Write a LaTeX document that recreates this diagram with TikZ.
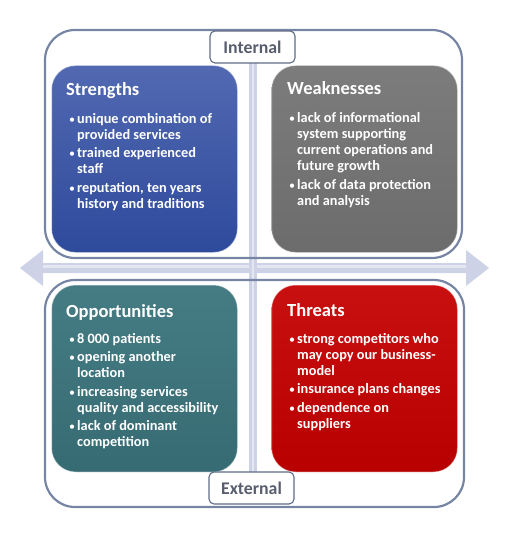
\documentclass[tikz,border=0pt]{standalone}
\usepackage{fontspec}
\setmainfont{Carlito}
\definecolor{framec}{HTML}{7785A4}
\definecolor{axisc}{HTML}{CDD2E7}
\definecolor{axisl}{HTML}{E4E7F2}
\definecolor{lblline}{HTML}{5F6B86}
\definecolor{lbltext}{HTML}{595E6E}
\definecolor{sTop}{HTML}{5269B2}
\definecolor{sBot}{HTML}{2E4A9B}
\definecolor{wTop}{HTML}{7C7C7C}
\definecolor{wBot}{HTML}{6C6C6C}
\definecolor{oTop}{HTML}{457C83}
\definecolor{oBot}{HTML}{376B73}
\definecolor{tTop}{HTML}{C81010}
\definecolor{tBot}{HTML}{B80000}
\tikzset{
  frame/.style={draw=framec, line width=2.2pt, rounded corners=30pt},
  quad/.style={rounded corners=24pt, minimum width=186pt, minimum height=187pt, inner sep=0pt, draw=white, draw opacity=0.45, line width=1pt},
  lbl/.style={draw=lblline, fill=white, line width=1.1pt, rounded corners=5pt, minimum width=85pt, minimum height=32pt, inner sep=0pt, text=lbltext, font=\fontsize{17.8}{20}\selectfont\bfseries},
  ttl/.style={anchor=base west, inner sep=0pt, text=white, font=\fontsize{18.5}{21}\selectfont\bfseries},
  body/.style={anchor=north west, inner sep=0pt, text=white, align=left, font=\fontsize{14.3}{16}\selectfont\bfseries}
}
\newcommand{\bul}{\makebox[9pt][l]{\hspace{1pt}{\fontsize{12}{16}\selectfont\mdseries •}}}
\newcommand{\ind}{\hspace*{9pt}}
\begin{document}
\begin{tikzpicture}[x=1pt,y=-1pt]
\useasboundingbox (0,0) rectangle (524,537);
% horizontal double arrow
\fill[axisc] (20,268) -- (43,250) -- (43,263) -- (466,263) -- (466,250) -- (489,268) -- (466,286) -- (466,273) -- (43,273) -- (43,286) -- cycle;
\fill[axisl] (43,265) rectangle (466,268);
% vertical bar
\fill[axisc] (249,62) rectangle (257,474);
\fill[axisl] (252,62) rectangle (254,474);
% frames
\draw[frame] (45,30) rectangle (462,258);
\draw[frame] (45,280) rectangle (464,507);
% quadrants
\node[quad, top color=sTop, bottom color=sBot] (S) at (144.5,159) {};
\node[quad, top color=wTop, bottom color=wBot] (W) at (364.5,159) {};
\node[quad, top color=oTop, bottom color=oBot] (O) at (144.5,378.5) {};
\node[quad, top color=tTop, bottom color=tBot] (T) at (364.5,378.5) {};
% labels
\node[lbl] (int) at (252.5,47) {Internal};
\node[lbl] (ext) at (251.5,488) {External};
% Strengths
\node[ttl] (st) at (66,96) {Strengths};
\node[body] (sb) at (68,123-11.2) {\strut\bul unique combination of\\ \ind provided services\\[2.5pt]
\bul trained experienced\\ \ind staff\\[2.5pt]
\bul reputation, ten years\\ \ind history and traditions};
% Weaknesses
\node[ttl] (wt) at (287,95) {Weaknesses};
\node[body] (wb) at (288,122-11.2) {\strut\bul lack of informational\\ \ind system supporting\\ \ind current operations and\\ \ind future growth\\[3pt]
\bul lack of data protection\\ \ind and analysis};
% Opportunities
\node[ttl] (ot) at (66,317) {Opportunities};
\node[body] (ob) at (68,343-11.2) {\strut\bul 8 000 patients\\[2.5pt]
\bul opening another\\ \ind location\\[2.5pt]
\bul increasing services\\ \ind quality and accessibility\\[2.5pt]
\bul lack of dominant\\ \ind competition};
% Threats
\node[ttl] (tt) at (287,316) {Threats};
\node[body] (tb) at (288,343-11.2) {\strut\bul strong competitors who\\ \ind may copy our business-\\ \ind model\\[2.5pt]
\bul insurance plans changes\\[2.5pt]
\bul dependence on\\ \ind suppliers};
\end{tikzpicture}
\end{document}
